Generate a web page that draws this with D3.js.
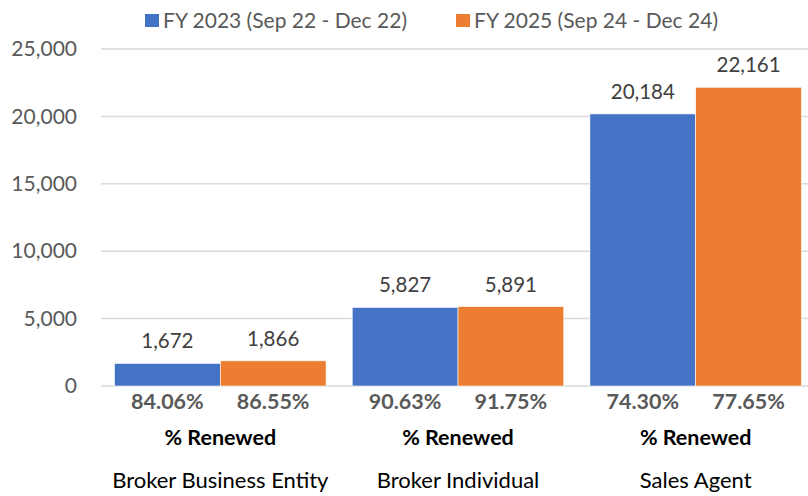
<!DOCTYPE html>
<html lang="en">
<head>
<meta charset="UTF-8">
<title>Renewals</title>
<style>
  body { margin: 0; background: #fff; font-family: Lato, "Open Sans", sans-serif; }
  .tick text { fill: #595959; }
</style>
</head>
<body>
<svg id="chart" width="808" height="496"></svg>
<script src="https://d3js.org/d3.v7.min.js"></script>
<script>
// data
const categories = ["Broker Business Entity", "Broker Individual", "Sales Agent"];
const seriesNames = ["FY 2023 (Sep 22 - Dec 22)", "FY 2025 (Sep 24 - Dec 24)"];
const fy2023 = [1672, 5827, 20184];
const fy2025 = [1866, 5891, 22161];
const pct2023 = ["84.06%", "90.63%", "74.30%"];
const pct2025 = ["86.55%", "91.75%", "77.65%"];
const yTicks = [0, 5000, 10000, 15000, 20000, 25000];
const colors = ["#4472C4", "#ED7D31"];

const width = 808, height = 496;
const margin = { top: 49, right: 0, bottom: 110, left: 101 };
const svg = d3.select("#chart");

const x = d3.scaleBand().domain(categories)
    .range([105, 811])
    .paddingInner(0.11).paddingOuter(0.04);
const xs = d3.scaleBand().domain([0, 1]).range([0, x.bandwidth()]);
const y = d3.scaleLinear().domain([0, 25000]).range([height - margin.bottom, margin.top]);

// gridlines
svg.append("g").selectAll("line").data(yTicks).join("line")
    .attr("x1", margin.left).attr("x2", width - margin.right)
    .attr("y1", d => y(d)).attr("y2", d => y(d))
    .attr("stroke", "#D9D9D9").attr("stroke-width", 1.5);

// y axis labels
const yAxis = svg.append("g")
    .attr("transform", `translate(${margin.left - 24},0)`)
    .call(d3.axisLeft(y).tickValues(yTicks).tickFormat(d3.format(",")).tickSize(0).tickPadding(0));
yAxis.select(".domain").remove();
yAxis.selectAll("text").attr("font-size", 21).attr("font-family", "Lato");

const rows = categories.map((c, i) => ({
  cat: c,
  vals: [fy2023[i], fy2025[i]],
  pcts: [pct2023[i], pct2025[i]]
}));

const g = svg.append("g").selectAll("g").data(rows).join("g")
    .attr("transform", d => `translate(${x(d.cat)},0)`);

g.selectAll("rect").data(d => d.vals).join("rect")
    .attr("x", (d, i) => xs(i))
    .attr("width", xs.bandwidth())
    .attr("y", d => y(d))
    .attr("height", d => y(0) - y(d))
    .attr("fill", (d, i) => colors[i])
    .attr("stroke", "#fff").attr("stroke-width", 0.6);

// value labels
g.selectAll("text.val").data(d => d.vals).join("text")
    .attr("class", "val")
    .attr("x", (d, i) => xs(i) + xs.bandwidth() / 2)
    .attr("y", d => y(d) - 15)
    .attr("text-anchor", "middle")
    .attr("font-size", 20.5).attr("fill", "#404040")
    .text(d => d3.format(",")(d));

// percent labels
g.selectAll("text.pct").data(d => d.pcts).join("text")
    .attr("class", "pct")
    .attr("x", (d, i) => xs(i) + xs.bandwidth() / 2)
    .attr("y", y(0) + 23)
    .attr("text-anchor", "middle")
    .attr("font-size", 21.5).attr("font-weight", "bold").attr("fill", "#595959")
    .text(d => d);

g.append("text")
    .attr("x", x.bandwidth() / 2).attr("y", y(0) + 59)
    .attr("text-anchor", "middle")
    .attr("font-size", 21.5).attr("font-weight", "bold").attr("fill", "#000")
    .text("% Renewed");

g.append("text")
    .attr("x", x.bandwidth() / 2).attr("y", y(0) + 102)
    .attr("text-anchor", "middle")
    .attr("font-size", 22).attr("fill", "#000")
    .text(d => d.cat);

// legend
const legendX = [145, 456];
const lg = svg.append("g").selectAll("g").data(seriesNames).join("g")
    .attr("transform", (d, i) => `translate(${legendX[i]},14)`);
lg.append("rect").attr("width", 14).attr("height", 13).attr("fill", (d, i) => colors[i]);
lg.append("text").attr("x", 18).attr("y", 13.5)
    .attr("font-size", 21).attr("fill", "#595959")
    .text(d => d);
</script>
</body>
</html>
